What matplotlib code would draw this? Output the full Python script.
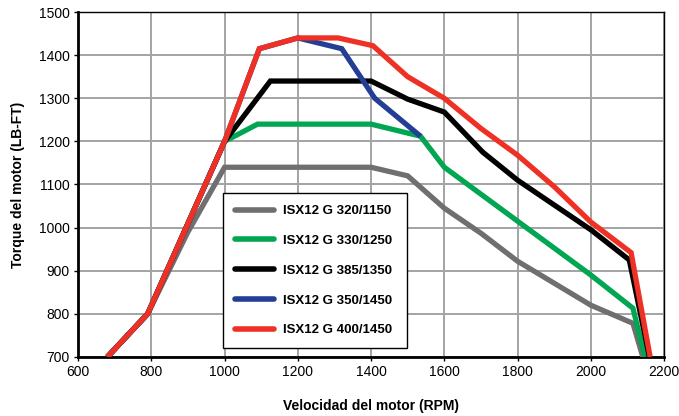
import matplotlib
matplotlib.use("Agg")
import matplotlib.pyplot as plt

plt.rcParams["font.family"] = ["Liberation Sans", "DejaVu Sans"]

# ── data ──────────────────────────────────────────────────────────────────────
rpm_320 = [680, 790, 900, 1000, 1400, 1500, 1600, 1700, 1800, 2000, 2115, 2142]
tq_320 = [700, 800, 990, 1140, 1140, 1120, 1045, 987, 922, 820, 778, 700]

rpm_330 = [680, 790, 1000, 1090, 1400, 1535, 1600, 1800, 2000, 2115, 2148]
tq_330 = [700, 800, 1200, 1240, 1240, 1212, 1140, 1015, 890, 813, 700]

rpm_385 = [680, 790, 1000, 1125, 1400, 1500, 1600, 1705, 1800, 2000, 2105, 2160]
tq_385 = [700, 800, 1200, 1340, 1340, 1298, 1268, 1175, 1110, 995, 925, 700]

rpm_350 = [680, 790, 1000, 1095, 1200, 1320, 1410, 1535]
tq_350 = [700, 800, 1200, 1415, 1440, 1415, 1300, 1212]

rpm_400 = [680, 790, 1000, 1095, 1200, 1310, 1405, 1500, 1600, 1700, 1800, 1900, 2000, 2110, 2162]
tq_400 = [700, 800, 1200, 1415, 1440, 1440, 1422, 1350, 1300, 1230, 1168, 1095, 1013, 942, 700]

labels = ["ISX12 G 320/1150", "ISX12 G 330/1250", "ISX12 G 385/1350",
          "ISX12 G 350/1450", "ISX12 G 400/1450"]
colors = ["#6f6f72", "#00a651", "#000000", "#233e94", "#ee3124"]

x_ticks = [600, 800, 1000, 1200, 1400, 1600, 1800, 2000, 2200]
y_ticks = [700, 800, 900, 1000, 1100, 1200, 1300, 1400, 1500]

# ── plot ──────────────────────────────────────────────────────────────────────
fig = plt.figure(figsize=(6.79, 4.16), dpi=100)
ax = fig.add_axes([0.115, 0.142, 0.863, 0.829])

series = [(rpm_320, tq_320), (rpm_330, tq_330), (rpm_385, tq_385),
          (rpm_350, tq_350), (rpm_400, tq_400)]
for (xs, ys), lab, col in zip(series, labels, colors):
    ax.plot(xs, ys, color=col, linewidth=3.8, label=lab,
            solid_joinstyle="miter", solid_capstyle="butt", zorder=3)

ax.set_xlim(600, 2200)
ax.set_ylim(700, 1500)
ax.set_xticks(x_ticks)
ax.set_yticks(y_ticks)
ax.tick_params(labelsize=10, length=3, width=1, direction="out", pad=3)
ax.grid(True, color="#a3a3a3", linewidth=1.4)
ax.set_axisbelow(True)

for side in ["left", "bottom"]:
    ax.spines[side].set_linewidth(2.0)
for side in ["top", "right"]:
    ax.spines[side].set_linewidth(1.0)

ax.set_xlabel("Velocidad del motor (RPM)", fontsize=10, fontweight="bold", labelpad=14)
ax.set_ylabel("Torque del motor (LB-FT)", fontsize=10, fontweight="bold", labelpad=10)

leg = ax.legend(loc="upper left", bbox_to_anchor=(0.247, 0.475, 0.314, 0.0),
                mode="expand", borderaxespad=0,
                prop={"weight": "bold", "size": 9.5},
                handlelength=3.0, handletextpad=0.65, labelspacing=1.33,
                borderpad=0.9, fancybox=False, framealpha=1)
leg.get_frame().set_edgecolor("black")
leg.get_frame().set_linewidth(1.0)
for line in leg.get_lines():
    line.set_solid_capstyle("round")
    line.set_linewidth(4.0)

fig.savefig("out.png", dpi=100)
